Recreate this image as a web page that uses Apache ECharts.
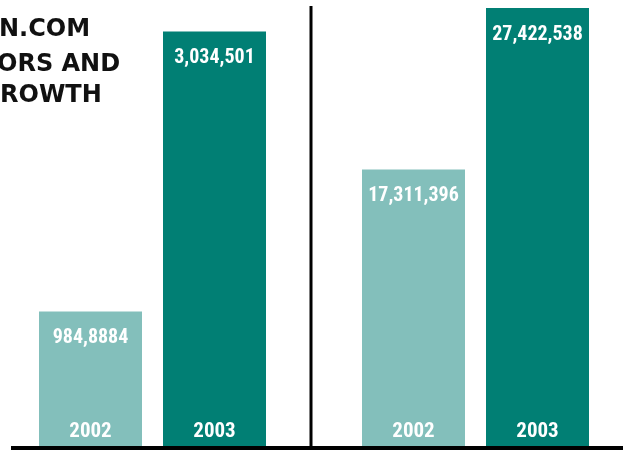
<!DOCTYPE html>
<html>
<head>
<meta charset="utf-8">
<script src="https://cdn.jsdelivr.net/npm/echarts@6/dist/echarts.min.js"></script>
<style>
html,body{margin:0;padding:0;background:#fff;}
#c{width:626px;height:450px;}
</style>
</head>
<body>
<div id="c"></div>
<script>
// ---- data ----
var years = ['2002', '2003'];
var leftValues = [984888, 3034501];
var leftLabels = ['984,8884', '3,034,501'];
var rightValues = [17311396, 27422538];
var rightLabels = ['17,311,396', '27,422,538'];
var titleLines = ['N.COM', 'ORS AND', 'ROWTH'];

var LIGHT = '#83bfbb';
var DARK = '#017f74';
var NUM_FONT = '"Liberation Sans Narrow", "Roboto Condensed", Roboto, sans-serif';

var chart = echarts.init(document.getElementById('c'), null, {renderer: 'canvas'});

function xAx(idx) {
  return {
    type: 'category', gridIndex: idx, data: years, z: 10,
    axisLine: {show: false}, axisTick: {show: false},
    axisLabel: {inside: true, margin: 4, color: '#fff', fontFamily: NUM_FONT, fontWeight: 'bold', fontSize: 21}
  };
}
function yAx(idx, max) {
  return {type: 'value', gridIndex: idx, min: 0, max: max, show: false, splitLine: {show: false}};
}
function barSeries(idx, values, labels) {
  return {
    type: 'bar', xAxisIndex: idx, yAxisIndex: idx, barWidth: 103,
    data: values.map(function (v, i) {
      return {value: v, itemStyle: {color: i === 0 ? LIGHT : DARK}};
    }),
    label: {
      show: true, position: 'insideTop', distance: 17, color: '#fff',
      fontFamily: NUM_FONT, fontWeight: 'bold', fontSize: 20,
      formatter: function (p) { return labels[p.dataIndex]; }
    }
  };
}

var titleFont = {fontFamily: '"DejaVu Sans"', fontWeight: 'bold', fontSize: 24, fill: '#111'};
var titleY = [30, 65, 96];
var titleX = [-1, -3, 0];

chart.setOption({
  animation: false,
  grid: [
    {left: 28.5, width: 248, top: 0, bottom: 4},
    {left: 351.5, width: 248, top: 0, bottom: 4}
  ],
  xAxis: [xAx(0), xAx(1)],
  yAxis: [yAx(0, 3265000), yAx(1, 27923000)],
  series: [barSeries(0, leftValues, leftLabels), barSeries(1, rightValues, rightLabels)],
  graphic: [
    {type: 'rect', z: 20, shape: {x: 11, y: 446, width: 612, height: 4}, style: {fill: '#000'}},
    {type: 'rect', z: 20, shape: {x: 309.5, y: 6, width: 3, height: 440}, style: {fill: '#000'}}
  ].concat(titleLines.map(function (t, i) {
    return {type: 'text', x: titleX[i], y: titleY[i], z: 20,
      style: Object.assign({text: t, textAlign: 'left', textVerticalAlign: 'middle'}, titleFont)};
  }))
});
</script>
</body>
</html>
